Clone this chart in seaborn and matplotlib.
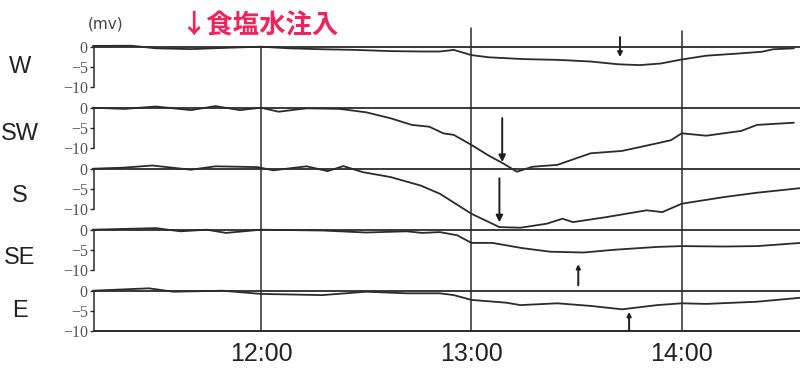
import matplotlib
matplotlib.use("Agg")
import matplotlib.pyplot as plt
import matplotlib.transforms as mtransforms
import pandas as pd
import seaborn as sns

# Time axis: minutes after 11:00; potentials in mV
w_time = [12, 23, 30, 40, 51, 60, 68, 78, 87, 97, 106, 111, 115, 120, 125, 135,
          145, 154, 162, 168, 174, 180, 187, 197, 203, 206, 212]
w_mv = [0.2, 0.25, -0.4, -0.6, -0.25, 0.0, -0.4, -0.65, -0.8, -1.1, -1.2, -1.2,
        -0.8, -2.1, -2.65, -3.1, -3.3, -3.7, -4.4, -4.6, -4.2, -3.2, -2.25,
        -1.65, -1.25, -0.65, -0.4]

sw_time = [12, 21, 30, 40, 47, 54, 60, 65, 73, 82.5, 90, 97, 103, 108, 112, 115,
           120, 125, 129, 133, 137.5, 144.5, 154, 163, 173, 177, 180, 187, 197,
           201.5, 212]
sw_mv = [0.0, -0.3, 0.3, -0.6, 0.4, -0.6, 0.0, -1.0, -0.15, -0.3, -1.15, -2.65,
         -4.3, -4.75, -6.4, -6.8, -9.3, -12.0, -13.9, -16.0, -14.75, -14.3,
         -11.4, -10.8, -8.9, -8.1, -6.4, -7.0, -5.8, -4.3, -3.75]

s_time = [12, 20.5, 29, 40, 47, 59, 63.5, 73, 79, 83.5, 89, 97, 105.5, 111, 120,
          128, 134, 141.5, 146, 149, 158.5, 170, 174.5, 180, 192, 201.5, 214]
s_mv = [0.0, 0.25, 0.8, -0.25, 0.6, 0.4, -0.4, 0.6, -0.6, 0.65, -0.85, -2.1,
        -4.2, -6.25, -11.25, -14.6, -14.75, -13.75, -12.5, -13.35, -12.1, -10.4,
        -10.85, -8.75, -7.1, -6.0, -4.85]

se_time = [12, 30, 37, 44.5, 50, 60, 77.5, 90, 101.5, 106, 111, 116, 120, 126,
           134.5, 142.5, 152, 161, 173, 180, 192, 201.5, 214]
se_mv = [0.0, 0.4, -0.4, 0.0, -0.8, 0.0, -0.2, -0.7, -0.4, -0.8, -0.6, -1.4,
         -3.3, -3.3, -4.6, -5.5, -5.7, -5.0, -4.3, -4.1, -4.2, -4.1, -3.3]

e_time = [12, 28, 35, 49, 60, 77.5, 90, 101.5, 111, 115, 120, 130, 134, 144.5,
          154, 163, 173, 180, 187, 201.5, 214]
e_mv = [0.0, 0.6, -0.25, 0.0, -0.8, -1.1, -0.25, -0.65, -0.65, -1.1, -2.3,
        -3.0, -3.6, -3.15, -3.8, -4.65, -3.6, -3.15, -3.3, -2.75, -1.75]

stations = ["W", "SW", "S", "SE", "E"]
series_time = [w_time, sw_time, s_time, se_time, e_time]
series_mv = [w_mv, sw_mv, s_mv, se_mv, e_mv]

# Time of the extreme for each station (minutes after 11:00)
peak_time = [162.4, 128.8, 128.0, 150.5, 165.0]

hour_ticks = [60, 120, 180]
hour_labels = ["12:00", "13:00", "14:00"]
mv_ticks = [0, -5, -10]
mv_labels = ["0", "\u22125", "\u221210"]

frames = []
for name, t, v in zip(stations, series_time, series_mv):
    frames.append(pd.DataFrame({"station": name, "t": t, "mv": v}))
data = pd.concat(frames, ignore_index=True)

sns.set_theme(style="white")
plt.rcParams["font.family"] = ["DejaVu Sans"]

ink = "#2b2b2b"
fig = plt.figure(figsize=(8.0, 3.71), dpi=100)
gs = fig.add_gridspec(5, 1, height_ratios=[61, 61, 61, 61, 40],
                      left=0.1175, right=1.0, top=0.8741, bottom=0.1086,
                      hspace=0)

# arrow geometry per panel: (tail, head) in mV
arrow_span = [(2.4, -2.6), (-2.6, -13.6), (-2.4, -13.4), (-13.9, -8.6), (-10.0, -5.3)]
arrow_head = [7, 10, 10, 6, 6]
label_y = [-5.1, -6.6, -6.9, -7.0, -5.1]
# how far the hour lines rise above the top panel (axes fraction)
vline_top = [1.0, 1.31, 1.26]

for i, name in enumerate(stations):
    ax = fig.add_subplot(gs[i])
    sub = data[data["station"] == name]
    sns.lineplot(data=sub, x="t", y="mv", ax=ax, color=ink, lw=1.3,
                 estimator=None, sort=False, clip_on=False)
    ax.set_xlim(12.35, 213.75)
    ax.set_ylim(-15.25 if i < 4 else -10, 0)
    ax.set_xlabel("")
    ax.set_ylabel("")
    ax.patch.set_alpha(0)

    ax.spines["right"].set_visible(False)
    ax.spines["top"].set_color(ink)
    ax.spines["top"].set_linewidth(1.3)
    ax.spines["left"].set_color(ink)
    ax.spines["left"].set_linewidth(1.1)
    ax.spines["left"].set_bounds(-10, 0)
    if i < 4:
        ax.spines["bottom"].set_visible(False)
    else:
        ax.spines["bottom"].set_color(ink)
        ax.spines["bottom"].set_linewidth(1.4)

    ax.set_yticks(mv_ticks, mv_labels, fontfamily="Liberation Serif",
                  fontsize=11.5, color="#555555")
    ax.tick_params(axis="y", direction="out", length=3, width=1, color=ink,
                   pad=1.5, left=True)

    for k, m in enumerate(hour_ticks):
        top = vline_top[k] if i == 0 else 1.0
        ax.axvline(m, ymin=0, ymax=top, color=ink, lw=1.1, clip_on=False)

    if i < 4:
        ax.set_xticks([])
    else:
        ax.set_xticks(hour_ticks, hour_labels, fontfamily="Liberation Sans",
                      fontsize=18, color="#222222")
        ax.tick_params(axis="x", length=0, pad=8)

    tail, head = arrow_span[i]
    ax.annotate("", xy=(peak_time[i], head), xytext=(peak_time[i], tail),
                arrowprops=dict(arrowstyle="-|>", color="#1e1e1e", lw=1.4,
                                mutation_scale=arrow_head[i],
                                shrinkA=0, shrinkB=0),
                annotation_clip=False)

    trans = mtransforms.blended_transform_factory(fig.transFigure, ax.transData)
    ax.text(20 / 800, label_y[i], name, transform=trans, ha="center",
            va="center", fontsize=17, color="#222222",
            family="Liberation Sans")

fig.text(88 / 800, 1 - 24 / 371, "(mv)", fontsize=11, color="#444444",
         va="center", ha="left")
fig.text(180 / 800, 1 - 26 / 371, "\u2193食塩水注入", color="#f0245a",
         fontsize=19, fontweight="bold", va="center", ha="left",
         family=["Noto Sans CJK JP", "DejaVu Sans"])

fig.savefig("out.png", dpi=100)
